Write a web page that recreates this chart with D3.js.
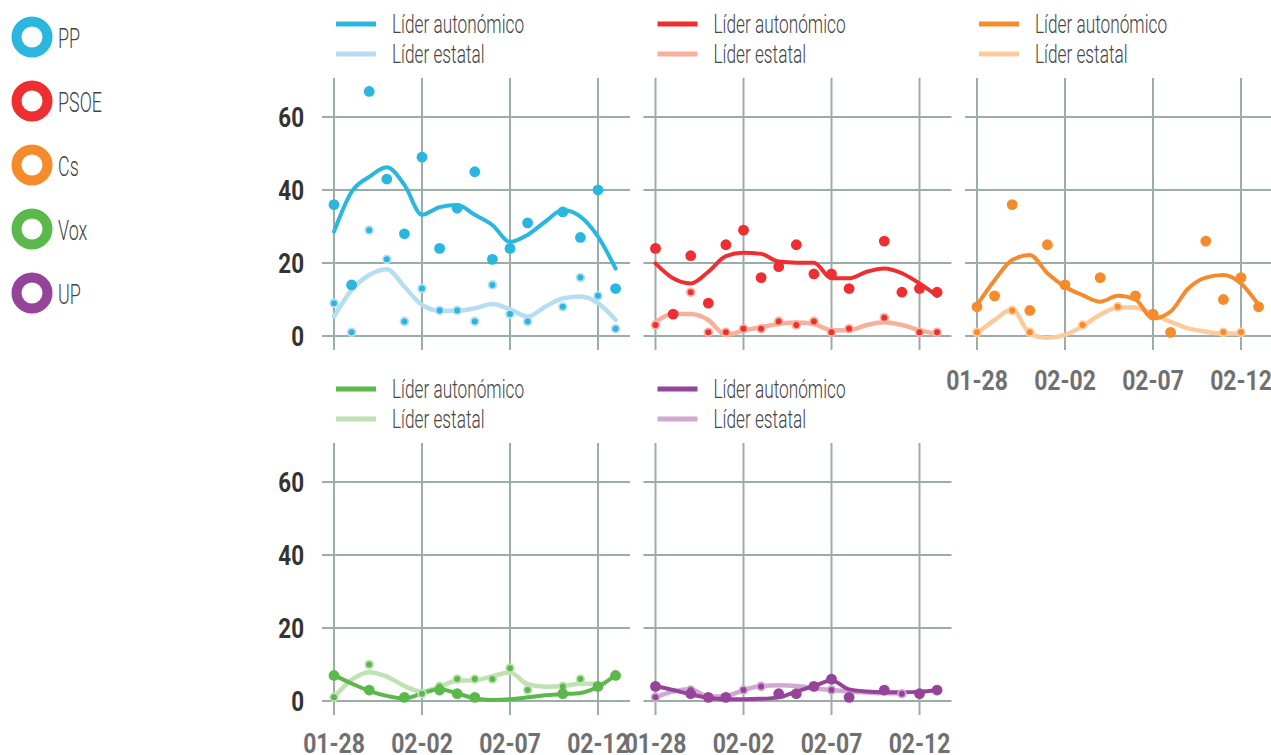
<!DOCTYPE html>
<html>
<head>
<meta charset="utf-8">
<script src="https://cdn.jsdelivr.net/npm/d3@7"></script>
<style>body{margin:0;background:#fff}</style>
</head>
<body>
<svg id="chart" width="1271" height="755"></svg>
<script>
// days shown on the x axis (one point per day, null = no data that day)
var dates=['2019-01-28','2019-01-29','2019-01-30','2019-01-31','2019-02-01','2019-02-02','2019-02-03','2019-02-04','2019-02-05','2019-02-06','2019-02-07','2019-02-08','2019-02-09','2019-02-10','2019-02-11','2019-02-12','2019-02-13'];
var tickDates=['2019-01-28','2019-02-02','2019-02-07','2019-02-12'];
var tickLabels=['01-28','02-02','02-07','02-12'];
var yTicks=[0,20,40,60];
var parties=['PP','PSOE','Cs','Vox','UP'];
var seriesNames=['Líder autonómico','Líder estatal'];
var colors=['#2bb6e0','#ee2e31','#f58b2a','#5bb94c','#96449a'];
var lightColors=['#b5def2','#f7b09b','#fccb9d','#c0e1b4','#d0a9d2'];

var ppAuto=[36,14,67,43,28,49,24,35,45,21,24,31,null,34,27,40,13];
var ppEst=[9,1,29,21,4,13,7,7,4,14,6,4,null,8,16,11,2];
var ppAutoFit=[28.6,39.5,43.6,46.2,41.4,33.2,35.3,35.9,33.2,30.4,25.8,27.7,31.3,34.5,32.7,27.2,18.5];
var ppEstFit=[5.3,12.6,16.7,18.3,13.5,8.5,6.9,6.9,7.6,8.8,7.3,5.3,8,10.3,10.8,9,4.4];

var psoeAuto=[24,6,22,9,25,29,16,19,25,17,17,13,null,26,12,13,12];
var psoeEst=[3,null,12,1,1,2,2,4,3,4,1,2,null,5,null,1,1];
var psoeAutoFit=[19.9,15.8,14.4,17.6,21.9,22.8,22.5,20.4,20.1,20.1,15.8,15.8,17.6,18.5,17.2,14.4,11];
var psoeEstFit=[3.9,6,6,4.4,0.3,1.5,2.4,3.3,3.7,3.3,1.6,1.6,3,3.8,3,1.6,0.5];

var csAuto=[8,11,36,7,25,14,null,16,null,11,6,1,null,26,10,16,8];
var csEst=[1,null,7,1,null,null,3,null,8,null,null,null,null,null,1,1,null];
var csAutoFit=[8.5,15.3,20.8,22.2,17.2,13.5,11.2,9.4,11,10,4.8,6.7,13,16,16.7,14.4,8.5];
var csEstFit=[0.7,4.4,7.3,0.7,-0.5,0.3,2.7,5.8,7.8,7.8,6,3.9,2.1,1.2,0.7,0.7,null];

var voxAuto=[7,null,3,null,1,null,3,2,1,null,null,null,null,2,null,4,7];
var voxEst=[1,null,10,null,null,2,4,6,6,6,9,3,null,4,6,null,null];
var voxAutoFit=[7.1,4.8,2.8,1.4,0.7,2.1,3.2,2.1,0.7,0.3,0.5,1,1.6,1.9,2.2,3.9,7.1];
var voxEstFit=[1,5.8,7.9,6.7,4.1,2.6,3.9,5.6,5.7,6.8,7.8,4.6,3.9,4.1,4.7,4.7,null];

var upAuto=[4,null,2,1,1,null,null,2,2,4,6,1,null,3,null,2,3];
var upEst=[1,null,3,null,null,3,4,null,null,null,3,null,null,null,2,null,null];
var upAutoFit=[4.1,3,1.8,0.9,0.5,0.5,0.6,1,2.6,4.1,5.6,3.2,2.6,2.4,2.4,2.5,3];
var upEstFit=[1,2.6,3.2,1.2,1.4,3,4.1,4.3,4.1,3.5,3,2.6,2.3,2.1,2.1,null,null];

var autoPts=[ppAuto,psoeAuto,csAuto,voxAuto,upAuto];
var estPts=[ppEst,psoeEst,csEst,voxEst,upEst];
var autoFit=[ppAutoFit,psoeAutoFit,csAutoFit,voxAutoFit,upAutoFit];
var estFit=[ppEstFit,psoeEstFit,csEstFit,voxEstFit,upEstFit];

var parse=d3.timeParse('%Y-%m-%d');
var days=dates.map(parse);
var svg=d3.select('#chart');
var F='Roboto,"Noto Sans",sans-serif';
var GRID='#9badA7';

// condensed text: real text squeezed horizontally
function txt(g,x,y,t,o){
  return g.append('text').attr('transform','translate('+x+','+y+') scale('+(o.sx||1)+',1)')
    .attr('font-family',F).attr('font-size',o.size).attr('font-weight',o.weight||400)
    .attr('fill',o.fill).attr('text-anchor',o.anchor||'start').text(t);
}

// party legend (left)
parties.forEach(function(p,i){
  var cy=37+64*i;
  svg.append('circle').attr('cx',32).attr('cy',cy).attr('r',15.5).attr('fill','none').attr('stroke',colors[i]).attr('stroke-width',10);
  txt(svg,58,cy+10.5,p,{size:28,weight:300,fill:'#444',sx:0.64});
});

var x=d3.scaleTime().domain([days[0],days[days.length-1]]).range([334,615.6]);
var y=d3.scaleLinear().domain([0,60]).range([336,117]);

parties.forEach(function(p,i){
  var col=i%3,row=Math.floor(i/3);
  var g=svg.append('g').attr('transform','translate('+(col*321.5)+','+(row*365)+')');

  // grid
  g.selectAll('.hg').data(yTicks).enter().append('line')
    .attr('x1',322).attr('x2',630).attr('y1',function(d){return y(d)}).attr('y2',function(d){return y(d)})
    .attr('stroke',GRID).attr('stroke-width',2);
  g.selectAll('.vg').data(tickDates.map(parse)).enter().append('line')
    .attr('y1',78).attr('y2',350).attr('x1',function(d){return x(d)}).attr('x2',function(d){return x(d)})
    .attr('stroke',GRID).attr('stroke-width',2);

  // y labels on left column
  if(col===0){
    yTicks.forEach(function(v){txt(g,304,y(v)+10,String(v),{size:28,weight:700,fill:'#333',anchor:'end',sx:0.8});});
  }
  // x labels on bottom of each column
  if(i>=2){
    tickDates.forEach(function(d,k){txt(g,x(parse(d)),row?387.5:389.5,tickLabels[k],{size:28,weight:700,fill:'#707070',anchor:'middle',sx:0.82});});
  }

  // panel legend
  [colors[i],lightColors[i]].forEach(function(c,k){
    g.append('line').attr('x1',336).attr('x2',376).attr('y1',24+30*k).attr('y2',24+30*k).attr('stroke',c).attr('stroke-width',5);
    txt(g,392,33+30*k,seriesNames[k],{size:25,weight:300,fill:'#444',sx:0.69});
  });

  var line=d3.line().defined(function(d){return d!==null}).x(function(d,j){return x(days[j])}).y(function(d){return y(d)}).curve(d3.curveMonotoneX);

  g.append('path').attr('d',line(estFit[i])).attr('fill','none').attr('stroke',lightColors[i]).attr('stroke-width',4.5).attr('stroke-linecap','round');
  g.append('path').attr('d',line(autoFit[i])).attr('fill','none').attr('stroke',colors[i]).attr('stroke-width',4).attr('stroke-linecap','round');

  var est=estPts[i].map(function(v,j){return {d:days[j],v:v}}).filter(function(o){return o.v!==null});
  g.selectAll('.ep').data(est).enter().append('circle')
    .attr('cx',function(o){return x(o.d)}).attr('cy',function(o){return y(o.v)}).attr('r',3.9)
    .attr('fill',colors[i]).attr('stroke',lightColors[i]).attr('stroke-width',1.8);
  var au=autoPts[i].map(function(v,j){return {d:days[j],v:v}}).filter(function(o){return o.v!==null});
  g.selectAll('.ap').data(au).enter().append('circle')
    .attr('cx',function(o){return x(o.d)}).attr('cy',function(o){return y(o.v)}).attr('r',5.4)
    .attr('fill',colors[i]);
});
</script>
</body>
</html>
